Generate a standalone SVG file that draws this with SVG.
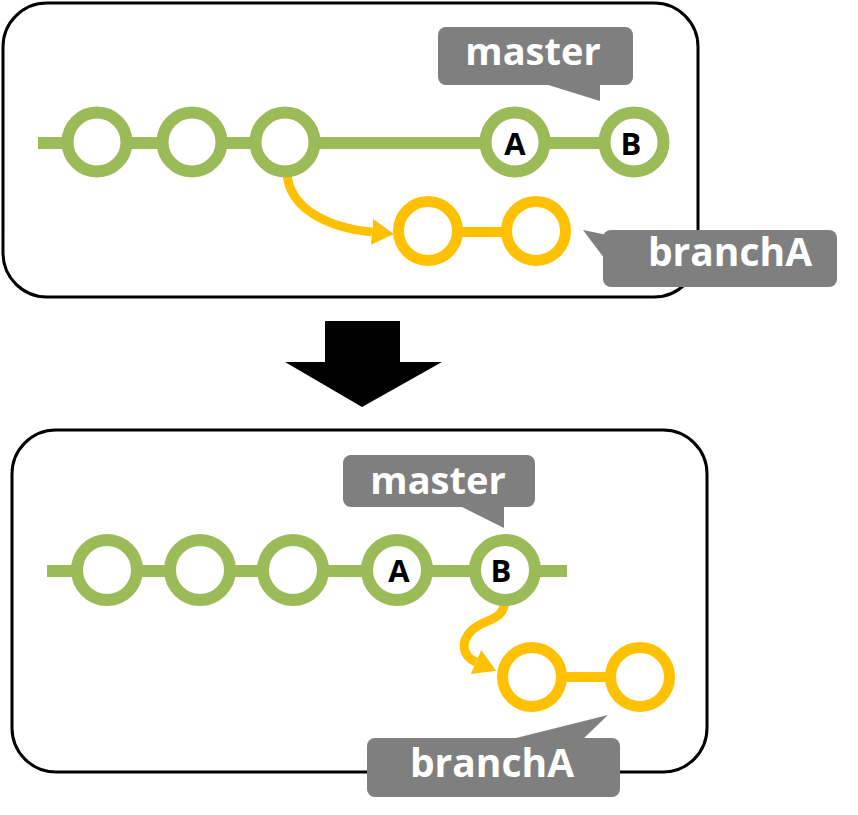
<svg xmlns="http://www.w3.org/2000/svg" width="858" height="815" viewBox="0 0 858 815">
<style>
.panel{fill:#fff;stroke:#000;stroke-width:3}
.g{fill:#fff;stroke:#9bbb59;stroke-width:12}
.o{fill:#fff;stroke:#ffc000;stroke-width:11}
.gl{stroke:#9bbb59;stroke-width:12;fill:none}
.ol{stroke:#ffc000;stroke-width:10;fill:none}
.oa{stroke:#ffc000;stroke-width:9;fill:none;marker-end:url(#ah)}
.call{fill:#7f7f7f}
.ct{fill:#fff;font-family:"Open Sans","DejaVu Sans",sans-serif;font-weight:bold;text-anchor:middle}
.lt{fill:#000;font-family:"Open Sans","DejaVu Sans",sans-serif;font-weight:bold;font-size:31px;text-anchor:middle}
</style>
<defs>
<marker id="ah" markerUnits="userSpaceOnUse" markerWidth="24" markerHeight="28" refX="0" refY="13" orient="auto" viewBox="0 0 24 28">
<path d="M0,0 L22,13 L0,26 z" fill="#ffc000"/>
</marker>
</defs>
<rect class="panel" x="3" y="3" width="695" height="294" rx="44"/>
<rect class="panel" x="12" y="430" width="695" height="342" rx="44"/>
<polygon id="down-arrow" points="325,321 400,321 400,362 442,362 362,407 285,362 325,362" fill="#000"/>
<g id="connectors">
<line class="gl" x1="38" y1="143" x2="635" y2="143"/>
<line class="ol" x1="428" y1="232" x2="536" y2="232"/>
<path class="oa" d="M287 174 C290 210 330 228 372 232"/>
<line class="gl" x1="47" y1="571" x2="567" y2="571"/>
<line class="ol" x1="532" y1="677" x2="640" y2="677"/>
<path class="oa" d="M505 600 C504 622 485 618 472 630 C460 642 462 656 476 662"/>
</g>
<g id="t1"><circle class="g" cx="97" cy="142" r="29.5"/></g>
<g id="t2"><circle class="g" cx="192" cy="142" r="29.5"/></g>
<g id="t3"><circle class="g" cx="285" cy="142" r="29.5"/></g>
<g id="tA"><circle class="g" cx="515" cy="142" r="29.5"/><text class="lt" x="515" y="155">A</text></g>
<g id="tB"><circle class="g" cx="634" cy="142" r="29.5"/><text class="lt" x="631" y="155">B</text></g>
<g id="to1"><circle class="o" cx="428" cy="231" r="29.5"/></g>
<g id="to2"><circle class="o" cx="536" cy="231" r="29.5"/></g>
<g id="t-master"><rect class="call" x="438" y="27" width="195" height="58" rx="8"/><polygon class="call" points="545,84 600,101 600,84"/><text class="ct" x="533" y="65" font-size="38">master</text></g>
<g id="t-branchA"><rect class="call" x="603" y="230" width="234" height="57" rx="8"/><polygon class="call" points="583,230 612,236 604,258"/><text class="ct" x="730" y="266" font-size="39">branchA</text></g>
<g id="b1"><circle class="g" cx="107" cy="570" r="30"/></g>
<g id="b2"><circle class="g" cx="200" cy="570" r="30"/></g>
<g id="b3"><circle class="g" cx="293" cy="570" r="30"/></g>
<g id="bA"><circle class="g" cx="397" cy="570" r="30"/><text class="lt" x="399" y="582">A</text></g>
<g id="bB"><circle class="g" cx="505" cy="570" r="30"/><text class="lt" x="501" y="582">B</text></g>
<g id="bo1"><circle class="o" cx="532" cy="677" r="29.5"/></g>
<g id="bo2"><circle class="o" cx="640" cy="677" r="29.5"/></g>
<g id="b-master"><rect class="call" x="343" y="455" width="192" height="52" rx="8"/><polygon class="call" points="460,506 504,528 504,506"/><text class="ct" x="438" y="494" font-size="38">master</text></g>
<g id="b-branchA"><rect class="call" x="367" y="738" width="253" height="59" rx="8"/><polygon class="call" points="512,739 608,715 583,739"/><text class="ct" x="492" y="777" font-size="39">branchA</text></g>
</svg>
